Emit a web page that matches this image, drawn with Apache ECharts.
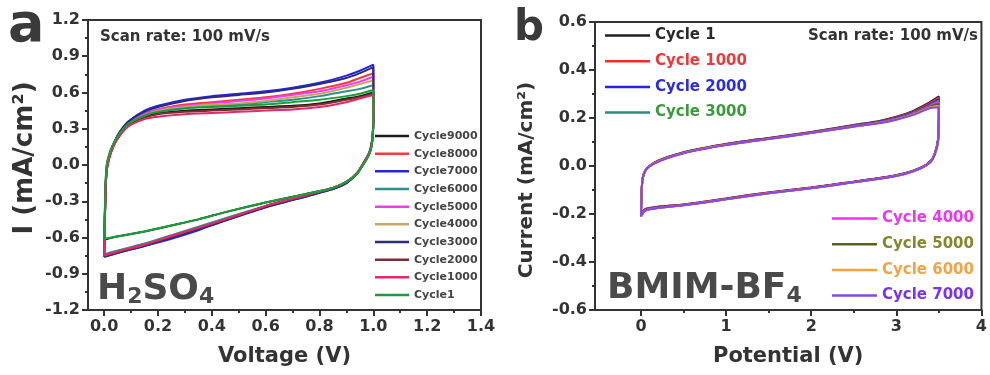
<!DOCTYPE html>
<html>
<head>
<meta charset="utf-8">
<script src="https://cdn.jsdelivr.net/npm/echarts@6/dist/echarts.min.js"></script>
<style>
  html, body { margin: 0; padding: 0; background: #fff; }
  #chart { width: 990px; height: 375px; }
</style>
</head>
<body>
<div id="chart"></div>
<script>
// ---- Panel a: H2SO4, cyclic voltammetry over 9000 cycles ----
// Sweep potentials: forward 0 -> 1 V, then reverse 1 -> 0 V
const aVoltage = [
  0, 0.003, 0.006, 0.01, 0.016, 0.025, 0.04, 0.06, 0.09, 0.15, 0.2, 0.3, 0.4, 0.5, 0.6, 0.7, 0.8, 0.9, 0.95, 1.0,
  1.0, 0.998, 0.993, 0.985, 0.97, 0.94, 0.9, 0.85, 0.75, 0.6, 0.45, 0.35, 0.25, 0.15, 0.08, 0.03, 0.0
];
const aCycle9000 = [
  -0.62, -0.35, -0.12, 0.00, 0.06, 0.12, 0.19, 0.26, 0.33, 0.40, 0.43, 0.45, 0.46, 0.47, 0.48, 0.49, 0.51, 0.55, 0.57, 0.60,
  0.39, 0.24, 0.15, 0.09, 0.03, -0.07, -0.14, -0.19, -0.24, -0.31, -0.39, -0.45, -0.50, -0.55, -0.58, -0.60, -0.62
];
const aCycle8000 = [
  -0.75, -0.41, -0.16, -0.03, 0.04, 0.11, 0.19, 0.27, 0.34, 0.42, 0.46, 0.50, 0.52, 0.54, 0.56, 0.59, 0.63, 0.68, 0.72, 0.76,
  0.40, 0.25, 0.16, 0.10, 0.04, -0.065, -0.14, -0.19, -0.25, -0.34, -0.45, -0.52, -0.59, -0.66, -0.70, -0.73, -0.75
];
const aCycle7000 = [
  -0.76, -0.40, -0.15, -0.02, 0.05, 0.12, 0.20, 0.28, 0.36, 0.45, 0.49, 0.54, 0.57, 0.59, 0.61, 0.64, 0.68, 0.74, 0.78, 0.83,
  0.42, 0.26, 0.17, 0.10, 0.04, -0.07, -0.15, -0.20, -0.26, -0.35, -0.46, -0.54, -0.61, -0.67, -0.71, -0.74, -0.76
];
const aCycle6000 = [
  -0.74, -0.41, -0.16, -0.03, 0.04, 0.11, 0.19, 0.26, 0.34, 0.41, 0.44, 0.47, 0.49, 0.50, 0.52, 0.54, 0.57, 0.61, 0.63, 0.66,
  0.39, 0.25, 0.16, 0.10, 0.04, -0.065, -0.14, -0.19, -0.25, -0.34, -0.44, -0.51, -0.58, -0.65, -0.69, -0.72, -0.74
];
const aCycle5000 = [
  -0.75, -0.41, -0.16, -0.03, 0.04, 0.11, 0.19, 0.27, 0.34, 0.42, 0.46, 0.49, 0.51, 0.53, 0.55, 0.58, 0.61, 0.66, 0.69, 0.73,
  0.40, 0.25, 0.16, 0.10, 0.04, -0.065, -0.14, -0.19, -0.25, -0.34, -0.45, -0.52, -0.59, -0.66, -0.70, -0.73, -0.75
];
const aCycle4000 = [
  -0.75, -0.41, -0.16, -0.03, 0.04, 0.11, 0.19, 0.26, 0.34, 0.41, 0.45, 0.48, 0.50, 0.51, 0.53, 0.56, 0.59, 0.64, 0.67, 0.70,
  0.40, 0.25, 0.16, 0.10, 0.04, -0.065, -0.14, -0.19, -0.25, -0.34, -0.45, -0.52, -0.59, -0.66, -0.70, -0.73, -0.75
];
const aCycle3000 = [
  -0.76, -0.40, -0.15, -0.02, 0.05, 0.12, 0.20, 0.28, 0.36, 0.44, 0.48, 0.53, 0.56, 0.58, 0.60, 0.63, 0.67, 0.72, 0.76, 0.81,
  0.41, 0.26, 0.17, 0.10, 0.04, -0.07, -0.15, -0.20, -0.26, -0.35, -0.46, -0.53, -0.60, -0.67, -0.71, -0.74, -0.76
];
const aCycle2000 = [
  -0.75, -0.42, -0.17, -0.04, 0.03, 0.10, 0.18, 0.25, 0.33, 0.39, 0.42, 0.44, 0.45, 0.46, 0.47, 0.48, 0.50, 0.54, 0.56, 0.59,
  0.40, 0.25, 0.16, 0.10, 0.04, -0.065, -0.14, -0.19, -0.25, -0.34, -0.45, -0.52, -0.59, -0.66, -0.70, -0.73, -0.75
];
const aCycle1000 = [
  -0.75, -0.42, -0.17, -0.04, 0.03, 0.10, 0.18, 0.25, 0.32, 0.38, 0.40, 0.42, 0.43, 0.44, 0.45, 0.46, 0.48, 0.52, 0.55, 0.58,
  0.40, 0.25, 0.16, 0.10, 0.04, -0.065, -0.14, -0.19, -0.25, -0.34, -0.45, -0.52, -0.59, -0.66, -0.70, -0.73, -0.75
];
const aCycle1 = [
  -0.61, -0.34, -0.11, 0.01, 0.07, 0.13, 0.20, 0.27, 0.34, 0.41, 0.44, 0.47, 0.48, 0.49, 0.50, 0.52, 0.54, 0.57, 0.59, 0.62,
  0.38, 0.24, 0.15, 0.09, 0.03, -0.07, -0.14, -0.19, -0.24, -0.31, -0.39, -0.45, -0.50, -0.55, -0.58, -0.60, -0.61
];
const aNames = ['Cycle9000', 'Cycle8000', 'Cycle7000', 'Cycle6000', 'Cycle5000',
                'Cycle4000', 'Cycle3000', 'Cycle2000', 'Cycle1000', 'Cycle1'];
const aCurrents = [aCycle9000, aCycle8000, aCycle7000, aCycle6000, aCycle5000,
                   aCycle4000, aCycle3000, aCycle2000, aCycle1000, aCycle1];
const aColors = ['#1c1c1c', '#f23a3a', '#2626d8', '#2f8f8a', '#f03cf0',
                 '#c9a46a', '#2c2c78', '#7a3030', '#e22a6a', '#17a038'];
const aXTicks = [0, 0.2, 0.4, 0.6, 0.8, 1.0, 1.2, 1.4];
const aXMinor = [0.1, 0.3, 0.5, 0.7, 0.9, 1.1, 1.3];

// ---- Panel b: BMIM-BF4, cyclic voltammetry over 7000 cycles ----
const bVoltage = [
  0, 0.005, 0.01, 0.02, 0.05, 0.1, 0.2, 0.35, 0.6, 1.0, 1.5, 2.0, 2.5, 2.8, 3.0, 3.2, 3.4, 3.5,
  3.5, 3.49, 3.45, 3.4, 3.3, 3.1, 2.8, 2.4, 2.0, 1.5, 1.0, 0.5, 0.2, 0.05, 0.0
];
const bCycle1 = [
  -0.20, -0.13, -0.09, -0.05, -0.02, 0.0, 0.022, 0.042, 0.066, 0.092, 0.117, 0.142, 0.171, 0.188, 0.205, 0.23, 0.267, 0.29,
  0.23, 0.11, 0.05, 0.02, -0.005, -0.03, -0.05, -0.07, -0.09, -0.11, -0.135, -0.16, -0.17, -0.18, -0.20
];
const bCycle1000 = [
  -0.20, -0.13, -0.09, -0.05, -0.02, 0.0, 0.021, 0.041, 0.065, 0.091, 0.116, 0.141, 0.170, 0.186, 0.203, 0.227, 0.263, 0.285,
  0.23, 0.11, 0.05, 0.02, -0.005, -0.03, -0.05, -0.07, -0.09, -0.11, -0.135, -0.16, -0.17, -0.18, -0.20
];
const bCycle2000 = [
  -0.20, -0.13, -0.09, -0.05, -0.02, 0.0, 0.020, 0.040, 0.064, 0.090, 0.115, 0.140, 0.168, 0.184, 0.200, 0.224, 0.258, 0.278,
  0.23, 0.11, 0.05, 0.02, -0.006, -0.031, -0.051, -0.071, -0.091, -0.112, -0.137, -0.162, -0.172, -0.182, -0.20
];
const bCycle3000 = [
  -0.205, -0.13, -0.09, -0.05, -0.02, -0.001, 0.019, 0.039, 0.063, 0.089, 0.114, 0.139, 0.167, 0.182, 0.198, 0.221, 0.254, 0.272,
  0.23, 0.105, 0.048, 0.018, -0.007, -0.032, -0.052, -0.072, -0.092, -0.113, -0.138, -0.163, -0.174, -0.184, -0.205
];
const bCycle4000 = [
  -0.205, -0.13, -0.09, -0.05, -0.02, -0.001, 0.019, 0.039, 0.063, 0.089, 0.114, 0.139, 0.166, 0.181, 0.196, 0.219, 0.251, 0.266,
  0.22, 0.105, 0.048, 0.018, -0.007, -0.032, -0.052, -0.072, -0.092, -0.113, -0.138, -0.163, -0.174, -0.184, -0.205
];
const bCycle5000 = [
  -0.21, -0.135, -0.092, -0.052, -0.021, -0.002, 0.018, 0.038, 0.062, 0.088, 0.113, 0.138, 0.165, 0.180, 0.195, 0.217, 0.248, 0.258,
  0.22, 0.10, 0.046, 0.016, -0.008, -0.033, -0.053, -0.073, -0.093, -0.114, -0.139, -0.164, -0.175, -0.186, -0.21
];
const bCycle6000 = [
  -0.21, -0.135, -0.092, -0.052, -0.021, -0.002, 0.018, 0.038, 0.062, 0.088, 0.112, 0.137, 0.164, 0.179, 0.194, 0.215, 0.245, 0.25,
  0.21, 0.10, 0.046, 0.016, -0.008, -0.033, -0.053, -0.073, -0.093, -0.114, -0.139, -0.164, -0.175, -0.186, -0.21
];
const bCycle7000 = [
  -0.21, -0.135, -0.092, -0.052, -0.021, -0.002, 0.017, 0.037, 0.061, 0.087, 0.112, 0.137, 0.164, 0.178, 0.193, 0.213, 0.242, 0.245,
  0.21, 0.10, 0.045, 0.015, -0.008, -0.033, -0.053, -0.073, -0.093, -0.114, -0.139, -0.164, -0.175, -0.186, -0.21
];
const bNames = ['Cycle 1', 'Cycle 1000', 'Cycle 2000', 'Cycle 3000',
                'Cycle 4000', 'Cycle 5000', 'Cycle 6000', 'Cycle 7000'];
const bCurrents = [bCycle1, bCycle1000, bCycle2000, bCycle3000,
                   bCycle4000, bCycle5000, bCycle6000, bCycle7000];
const bColors = ['#1e1e1e', '#f22c2c', '#2222ee', '#2f8a7c',
                 '#f22cf2', '#5e5e14', '#f2a23a', '#8a46e6'];
const bTextColors = ['#2a2a2a', '#e83a3a', '#2e2ed8', '#3c9a3c',
                     '#e83ae8', '#86862e', '#f0a447', '#7834ee'];
const bXTicks = [0, 1, 2, 3, 4];
const bXMinor = [0.5, 1.5, 2.5, 3.5];

const FONT = 'DejaVu Sans';
const INK = '#333';

const toPairs = (xs, ys) => ys.map((y, i) => [xs[i], y]);

const series = [];
aNames.forEach((name, i) => {
  series.push({
    name, type: 'line', xAxisIndex: 0, yAxisIndex: 0,
    data: toPairs(aVoltage, aCurrents[i]),
    symbol: 'none', showSymbol: false, smooth: 0.2,
    lineStyle: { width: 2, color: aColors[i] },
    itemStyle: { color: aColors[i] },
    emphasis: { disabled: true }
  });
});
bNames.forEach((name, i) => {
  series.push({
    name, type: 'line', xAxisIndex: 2, yAxisIndex: 1,
    data: toPairs(bVoltage, bCurrents[i]),
    symbol: 'none', showSymbol: false, smooth: 0.2,
    lineStyle: { width: 2, color: bColors[i] },
    itemStyle: { color: bColors[i] },
    emphasis: { disabled: true }
  });
});

const tickLabel = { fontFamily: FONT, fontWeight: 'bold', fontSize: 16, color: INK };
const nameStyle = { fontFamily: FONT, fontWeight: 'bold', fontSize: 21, color: INK };
const axisLine = { show: true, onZero: false, lineStyle: { color: INK, width: 2 } };

function mainX(grid, min, max, ticks, fmt, name) {
  return {
    gridIndex: grid, type: 'value', min, max, position: 'bottom',
    axisLine,
    axisTick: { show: true, customValues: ticks, length: 6, lineStyle: { color: INK, width: 2 } },
    axisLabel: Object.assign({ customValues: ticks, formatter: fmt, margin: 9 }, tickLabel),
    splitLine: { show: false },
    name, nameLocation: 'middle', nameGap: 36, nameTextStyle: nameStyle
  };
}
function minorX(grid, min, max, ticks) {
  return {
    gridIndex: grid, type: 'value', min, max, position: 'bottom', offset: 0,
    axisLine: { show: false, onZero: false },
    axisTick: { show: true, customValues: ticks, length: 3, lineStyle: { color: INK, width: 2 } },
    axisLabel: { show: false },
    splitLine: { show: false }
  };
}

function legendBox(names, colors, left, top, iconW, gap, fontSize) {
  return {
    data: names.map((n, i) => colors ? { name: n, textStyle: { color: colors[i] } } : n),
    orient: 'vertical', left, top, padding: 0,
    icon: 'rect', itemWidth: iconW, itemHeight: 2.5, itemGap: gap, selectedMode: false,
    textStyle: { fontFamily: FONT, fontWeight: 'bold', fontSize, color: '#444', lineHeight: 14 }
  };
}

const option = {
  animation: false,
  backgroundColor: '#fff',
  grid: [
    { left: 88, top: 20, width: 393, height: 290, show: true, borderColor: INK, borderWidth: 2 },
    { left: 595, top: 22, width: 390, height: 288, show: true, borderColor: INK, borderWidth: 2 }
  ],
  xAxis: [
    mainX(0, -0.06, 1.4, aXTicks, v => v.toFixed(1), 'Voltage (V)'),
    minorX(0, -0.06, 1.4, aXMinor),
    mainX(1, -0.54, 4, bXTicks, v => String(v), 'Potential (V)'),
    minorX(1, -0.54, 4, bXMinor)
  ],
  yAxis: [
    {
      gridIndex: 0, type: 'value', min: -1.2, max: 1.2, interval: 0.3,
      axisLine,
      axisTick: { show: true, length: 6, lineStyle: { color: INK, width: 2 } },
      minorTick: { show: true, splitNumber: 2, length: 3, lineStyle: { color: INK, width: 2 } },
      axisLabel: Object.assign({ formatter: v => v.toFixed(1), margin: 8 }, tickLabel),
      splitLine: { show: false },
      name: 'I (mA/cm²)', nameLocation: 'middle', nameGap: 50, nameRotate: 90,
      nameTextStyle: Object.assign({}, nameStyle, { fontSize: 26, padding: [0, 0, 0, 14] })
    },
    {
      gridIndex: 1, type: 'value', min: -0.6, max: 0.6, interval: 0.2,
      axisLine,
      axisTick: { show: true, length: 6, lineStyle: { color: INK, width: 2 } },
      minorTick: { show: true, splitNumber: 2, length: 3, lineStyle: { color: INK, width: 2 } },
      axisLabel: Object.assign({ formatter: v => v.toFixed(1), margin: 8 }, tickLabel),
      splitLine: { show: false },
      name: 'Current (mA/cm²)', nameLocation: 'middle', nameGap: 58, nameRotate: 90,
      nameTextStyle: Object.assign({}, nameStyle, { fontSize: 20, padding: [0, 28, 0, 0] })
    }
  ],
  legend: [
    legendBox(aNames, null, 375, 129, 34, 3.67, 11),
    legendBox(bNames.slice(0, 4), bTextColors.slice(0, 4), 605, 28, 45, 10.7, 15),
    legendBox(bNames.slice(4), bTextColors.slice(4), 832, 211, 45, 10.7, 15)
  ],
  graphic: [
    { type: 'text', left: 8, top: 0, style: { text: 'a', font: 'bold 54px "DejaVu Sans"', fill: '#3a3a3a' } },
    { type: 'text', left: 514, top: 8, style: { text: 'b', font: 'bold 42px "DejaVu Sans"', fill: '#3a3a3a' } },
    { type: 'text', left: 100, top: 30, style: { text: 'Scan rate: 100 mV/s', font: 'bold 15px "DejaVu Sans"', fill: INK } },
    { type: 'text', right: 12, top: 29, style: { text: 'Scan rate: 100 mV/s', font: 'bold 15px "DejaVu Sans"', fill: INK } },
    {
      type: 'text', left: 97, top: 272,
      style: {
        text: '{n|H}{s|2}{n|SO}{s|4}', fill: '#4a4a4a',
        rich: {
          n: { fontFamily: FONT, fontWeight: 'bold', fontSize: 36, lineHeight: 36, verticalAlign: 'bottom', fill: '#4a4a4a' },
          s: { fontFamily: FONT, fontWeight: 'bold', fontSize: 22, lineHeight: 22, verticalAlign: 'bottom', fill: '#4a4a4a' }
        }
      }
    },
    {
      type: 'text', left: 607, top: 271,
      style: {
        text: '{n|BMIM-BF}{s|4}', fill: '#4a4a4a',
        rich: {
          n: { fontFamily: FONT, fontWeight: 'bold', fontSize: 36, lineHeight: 36, verticalAlign: 'bottom', fill: '#4a4a4a' },
          s: { fontFamily: FONT, fontWeight: 'bold', fontSize: 22, lineHeight: 22, verticalAlign: 'bottom', fill: '#4a4a4a' }
        }
      }
    }
  ],
  series
};

const chart = echarts.init(document.getElementById('chart'), null, { renderer: 'canvas' });
chart.setOption(option);
</script>
</body>
</html>
